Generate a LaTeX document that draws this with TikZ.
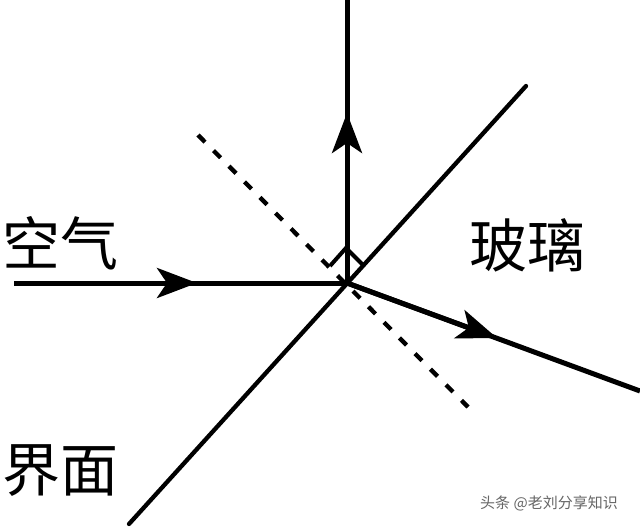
\documentclass[tikz,border=0pt]{standalone}
\usepackage{fontspec}
\newfontfamily\cjk{Noto Sans CJK SC}
\usetikzlibrary{arrows.meta}
\begin{document}
\begin{tikzpicture}[x=1pt,y=-1pt,
  ray/.style={line width=5pt},
  raytip/.style={-{Stealth[length=40pt,width=30pt,inset=10pt]}},
  face/.style={line width=4.3pt},
  normalline/.style={line width=4.3pt,dash pattern=on 10pt off 12pt},
  rightangle/.style={line width=4pt,line join=miter},
  cjklabel/.style={font=\cjk\fontsize{58}{60}\selectfont,inner sep=0pt},
  wmtext/.style={font=\cjk\fontsize{15}{16}\selectfont,text=black!60,inner sep=0pt}]
\useasboundingbox (0,0) rectangle (640,527);
\fill[white] (0,0) rectangle (640,527);
% key points
\coordinate (O) at (347,283);
\coordinate (In) at (14,283);
\coordinate (InTip) at (197,283);
\coordinate (Up) at (347,0);
\coordinate (UpTip) at (347,113);
\coordinate (Out) at (640,391);
\coordinate (OutTip) at (497,338);
\coordinate (F1) at (129,524);
\coordinate (F2) at (526,86);
\coordinate (N1) at (198,135);
\coordinate (N2) at (468,407);
\coordinate (S1) at (330,266);
\coordinate (S2) at (346,248);
\coordinate (S3) at (363,265);
% interface and normal
\draw[face,line cap=round] (F1) -- (F2);
\draw[normalline] (N1) -- (N2);
% right-angle mark
\draw[rightangle] (S1) -- (S2) -- (S3);
% incident ray
\draw[ray] (In) -- (O);
\draw[ray,raytip] (In) -- (InTip);
% reflected (vertical) ray
\draw[ray] (O) -- (Up);
\draw[ray,raytip] (O) -- (UpTip);
% refracted ray
\draw[ray] (O) -- (Out);
\draw[ray,raytip] (O) -- (OutTip);
% labels
\node[cjklabel] (air) at (60,243) {空气};
\node[cjklabel] (glass) at (527,245) {玻璃};
\node[cjklabel] (iface) at (60,471) {界面};
\node[wmtext] (wm) at (549,503) {头条 @老刘分享知识};
\end{tikzpicture}
\end{document}
